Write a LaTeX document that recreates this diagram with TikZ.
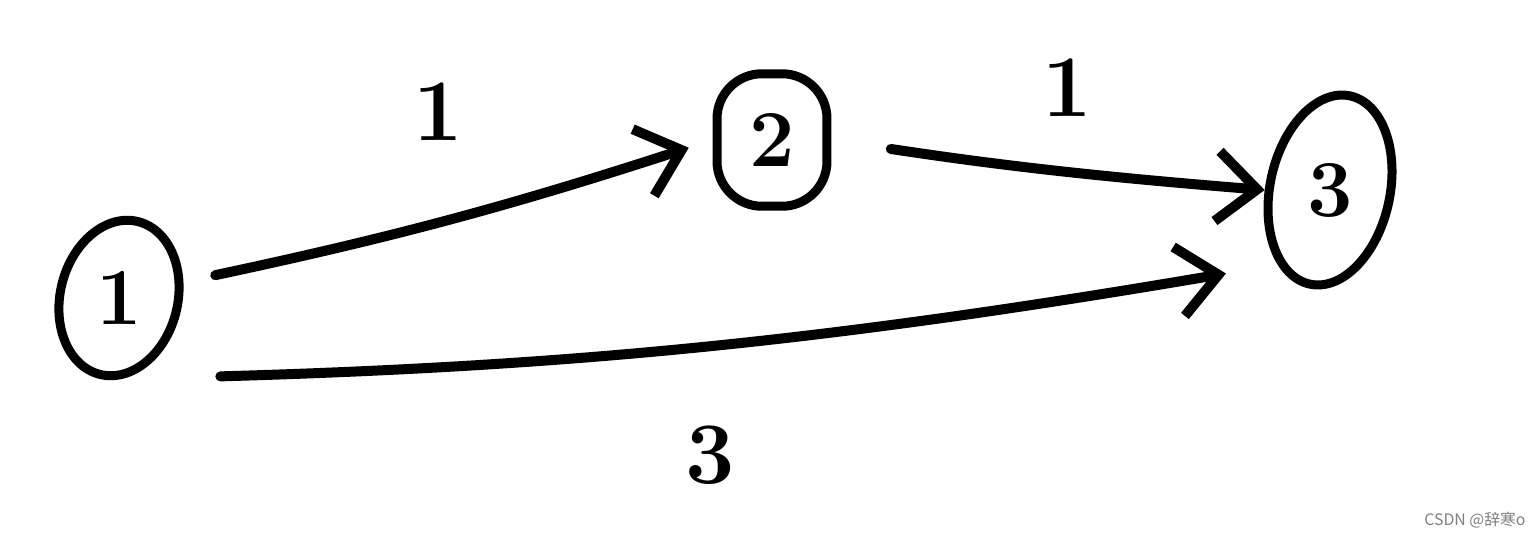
\documentclass[tikz,border=0pt]{standalone}
\usepackage{fontspec}
\newfontfamily\cjk{Noto Sans CJK SC}
\usetikzlibrary{positioning}
\usetikzlibrary{shapes.geometric}
\usetikzlibrary{arrows.meta}
\tikzset{
  vtx/.style={draw, line width=1.8mm, inner sep=0pt, font=\fontsize{46}{46}\selectfont\bfseries},
  edg/.style={line width=2mm, line cap=round, -{Straight Barb[length=8mm,width=14mm,line width=2mm]}},
  wgt/.style={font=\fontsize{50}{50}\selectfont\bfseries}
}
\begin{document}
\begin{tikzpicture}[x=0.02cm, y=-0.02cm]
\useasboundingbox[fill=white] (0,0) rectangle (1532,535);

% vertices
\node[vtx, ellipse, minimum width=2.35cm, minimum height=3.15cm, rotate=-14] (v1) at (119,298) {\rotatebox{14}{1}};
\node[vtx, rectangle, rounded corners=9mm, minimum width=2.2cm, minimum height=2.65cm] (v2) at (772,140) {2};
\node[vtx, ellipse, minimum width=2.4cm, minimum height=3.85cm, rotate=-12] (v3) at (1330,190) {\rotatebox{12}{3}};

% edges
\draw[edg, shorten <=6.5mm, shorten >=5mm] (v1.28) to[bend right=3] (v2.west);
\draw[edg, shorten <=12mm, shorten >=0mm] (v2.east) to[bend right=2] (v3.192);
\draw[edg, shorten <=2cm, shorten >=1.05cm] (v1.-75) to[bend right=4] (v3.247);

% weights
\node[wgt] (w12) at (438,112) {1};
\node[wgt] (w23) at (1067,88) {1};
\node[wgt] (w13) at (710,455) {3};

\node[text=gray, font=\cjk\fontsize{9}{9}\selectfont] (mark) at (1475,520) {CSDN @辞寒o};

\end{tikzpicture}
\end{document}
